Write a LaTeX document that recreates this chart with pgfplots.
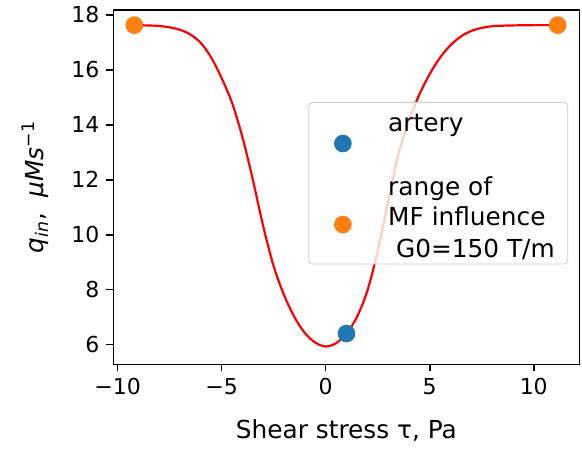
\documentclass[border=0pt]{standalone}
\usepackage{fontspec}
\setmainfont{DejaVu Sans}
\usepackage{pgfplots}
\pgfplotsset{compat=1.18}
\definecolor{mplblue}{HTML}{1F77B4}
\definecolor{mplorange}{HTML}{FF7F0E}
\begin{document}
\begin{tikzpicture}
\begin{axis}[
  scale only axis,
  width=233pt, height=177.35pt,
  at={(0,0)}, anchor=south west,
  xmin=-10.2, xmax=12.19,
  ymin=5.28, ymax=18.19,
  axis line style={line width=0.8pt},
  tick align=outside,
  major tick length=3.5pt,
  every tick/.style={black, line width=0.8pt},
  xtick={-10,-5,0,5,10},
  xticklabels={−10,−5,0,5,10},
  ytick={6,8,10,12,14,16,18},
  xtick pos=bottom, ytick pos=left,
  /pgf/number format/assume math mode=true,
  tick label style={font=\fontsize{11}{13}\selectfont},
  xlabel={Shear stress τ, Pa},
  ylabel={\textit{q}\textsubscript{\textit{in}},\ \ \textit{μMs}\textsuperscript{−1}},
  every axis x label/.style={at={(axis description cs:0.5,0)}, anchor=base, yshift=-37.2pt,
    font=\fontsize{12.4}{15}\selectfont},
  every axis y label/.style={at={(axis description cs:-0.168,0.5)}, anchor=center, rotate=90,
    font=\fontsize{12.4}{15}\selectfont},
  legend style={at={(0.976,0.7395)}, anchor=north east, draw=black!20, fill=white,
    fill opacity=0.8, text opacity=1, draw opacity=1, rounded corners=2pt,
    font=\fontsize{12.4}{15}\selectfont,
    inner xsep=6.5pt, inner ysep=2pt, column sep=0pt, row sep=2pt,
    nodes={inner sep=0pt, text depth=},
    cells={anchor=west, align=left}},
]
\addplot[only marks, mark=*, mark size=4.2pt, mplblue, draw=mplblue, fill=mplblue,
  legend image code/.code={\path (-10.35pt,0pt) (22.5pt,0pt);
    \fill[mplblue, fill opacity=1] (0pt,-2.42pt) circle[radius=4.2pt];}] coordinates {(1,6.4)};
\addlegendentry{\rule{0pt}{12.65pt}artery\\\strut}
\addplot[only marks, mark=*, mark size=4.2pt, mplorange, draw=mplorange, fill=mplorange,
  legend image code/.code={\path (-10.35pt,0pt) (22.5pt,0pt);
    \fill[mplorange, fill opacity=1] (0pt,-3.55pt) circle[radius=4.2pt];}] coordinates {(-9.2,17.63) (11.15,17.63)};
\addlegendentry{\strut range of\\\strut MF influence\\\rule{0pt}{10.5pt}\ G0=150 T/m}
\addplot[red, line width=1.1pt, smooth, forget plot] coordinates {
(-9.2,17.63) (-8.6,17.62) (-8.0,17.60) (-7.5,17.55) (-7.0,17.46) (-6.5,17.29)
(-6.0,16.98) (-5.5,16.45) (-5.0,15.70) (-4.5,14.80) (-4.0,13.55) (-3.5,12.00)
(-3.0,10.30) (-2.5,8.85) (-2.0,7.80) (-1.5,7.00) (-1.0,6.42) (-0.5,6.07)
(0.0,5.93) (0.5,6.05) (1.0,6.40) (1.5,7.00) (2.0,7.95) (2.5,9.40)
(3.0,11.20) (3.5,12.95) (4.0,14.15) (4.5,15.10) (5.0,15.85) (5.5,16.45)
(6.0,16.90) (6.5,17.22) (7.0,17.42) (7.5,17.53) (8.0,17.59) (8.5,17.61)
(9.0,17.62) (10.0,17.63) (11.15,17.63)
};
\end{axis}
\path[use as bounding box] (-56.75pt,-40pt) rectangle (234.35pt,182pt);
\end{tikzpicture}
\end{document}
